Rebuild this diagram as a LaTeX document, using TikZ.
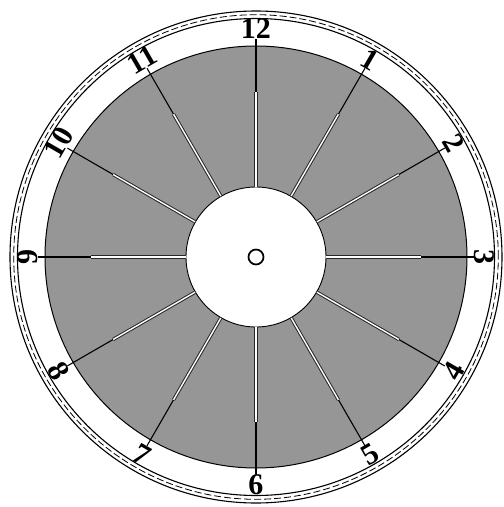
\documentclass[tikz,border=0pt]{standalone}
\usepackage{fontspec}
\setmainfont{Liberation Serif}
\begin{document}
\begin{tikzpicture}[x=1pt,y=1pt,
  numtext/.style={inner sep=0pt, font=\fontsize{30}{30}\selectfont\bfseries},
  hubcircle/.style={circle, fill=white, draw=black, line width=0.9pt, minimum size=140pt, inner sep=0pt},
  spokeouter/.style={draw=black!85, line width=3.4pt},
  spokeinner/.style={draw=white, line width=1.4pt},
  spokeblack/.style={draw=black, line width=1.1pt}
]
\definecolor{facegray}{RGB}{150,150,150}
\useasboundingbox (-256,-250) rectangle (248,257);
% outer ring
\draw[line width=1.1pt] (0,0) circle (246);
\draw[line width=1.1pt] (0,0) circle (238.5);
\draw[line width=0.8pt, dash pattern=on 7pt off 3pt] (0,0) circle (242.3);
% gray face
\fill[facegray] (0,0) circle (211);
\draw[line width=1pt] (0,0) circle (211);
% hub
\node[hubcircle] (hub) at (0,0) {};
\node[circle, draw=black, line width=1.7pt, minimum size=15pt, inner sep=0pt] (pin) at (0,0) {};
% numbers and spokes
\foreach \k/\ang/\rot in {12/90/0, 1/60/-30, 2/30/-60, 3/0/-90, 4/-30/60, 5/-60/30,
                          6/-90/0, 7/-120/-30, 8/-150/-60, 9/180/90, 10/150/60, 11/120/30}{
  \node[numtext, rotate=\rot] (n\k) at (\ang:228) {\k};
  \coordinate (w\k) at (\ang:165);
  \draw[spokeouter] (hub) -- (w\k);
  \draw[spokeinner] (hub) -- (w\k);
  \draw[spokeblack] (w\k) -- (n\k);
}
\end{tikzpicture}
\end{document}
